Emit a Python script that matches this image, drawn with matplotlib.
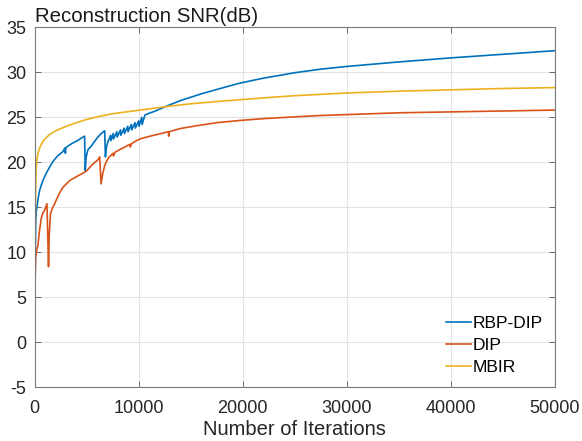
import matplotlib
matplotlib.use("Agg")
import matplotlib.pyplot as plt

# RBP-DIP (blue)
rbp_x = [0, 30, 60, 100, 150, 220, 350, 480, 650, 800, 1120, 1450, 1760, 2200, 2720, 2900,
         2950, 3000, 3200, 3600, 4100, 4500, 4800, 4860, 4950, 5120, 5440, 6000, 6400, 6730,
         6800, 6900, 7050, 7300,
         7330, 7550, 7580, 7900, 7930, 8250, 8280, 8600, 8630, 8950, 8980, 9300, 9330,
         9650, 9680, 10000, 10030, 10300, 10330,
         10600, 11000, 11500, 12000, 12690, 14000, 16000, 18000, 19740, 22000, 25000,
         27500, 30000, 35000, 40000, 45000, 50000]
rbp_y = [-2.2, 3.0, 10.0, 13.5, 14.5, 15.1, 16.1, 16.9, 17.5, 18.0, 18.8, 19.5, 20.1, 20.7, 21.2, 21.6,
         21.0, 21.6, 21.8, 22.1, 22.4, 22.7, 22.9, 19.1, 20.6, 21.4, 21.8, 22.7, 23.2, 23.5,
         20.6, 21.7, 22.3, 23.0,
         22.4, 23.2, 22.6, 23.4, 22.8, 23.6, 23.0, 23.8, 23.2, 24.0, 23.4, 24.2, 23.6,
         24.4, 23.8, 24.6, 24.0, 25.0, 24.2,
         25.25, 25.45, 25.65, 25.9, 26.25, 26.85, 27.6, 28.25, 28.8, 29.35, 29.95,
         30.35, 30.65, 31.15, 31.6, 32.0, 32.4]

# DIP (orange)
dip_x = [0, 20, 50, 100, 200, 317, 450, 635, 800, 960, 1180, 1330, 1400, 1520, 1700, 1920,
         2150, 2400, 2700, 3040, 3400, 3700, 4330, 4960, 5500, 6090, 6250, 6380, 6550, 6730,
         6900, 7100, 7530, 7580, 7700, 8000, 8500, 9160, 9200, 9300, 9700, 10125, 11080,
         12000, 12850, 12880, 12950, 14000, 15500, 17500, 19740, 22000, 25000, 27500,
         30000, 35000, 40000, 45000, 50000]
dip_y = [-1.2, 4.1, 7.5, 9.5, 10.3, 10.8, 12.3, 13.8, 14.4, 14.7, 15.4, 8.4, 12.0, 14.3, 14.9, 15.4,
         16.0, 16.6, 17.2, 17.6, 18.0, 18.2, 18.6, 19.0, 19.7, 20.3, 20.6, 17.6, 18.8, 19.6,
         20.1, 20.5, 21.0, 20.7, 21.1, 21.3, 21.6, 22.0, 21.7, 22.05, 22.35, 22.6, 22.9,
         23.15, 23.4, 22.9, 23.4, 23.75, 24.05, 24.4, 24.65, 24.85, 25.05, 25.2,
         25.3, 25.5, 25.6, 25.7, 25.8]

# MBIR (yellow)
mbir_x = [0, 30, 60, 100, 150, 200, 317, 450, 635, 900, 1440, 2200, 3040, 4000, 4960, 6200,
          7530, 8800, 10125, 12690, 15000, 17500, 19740, 22500, 25000, 27500, 30000, 35000,
          40000, 45000, 50000]
mbir_y = [3.5, 10.0, 14.0, 17.5, 19.3, 20.2, 21.0, 21.5, 22.0, 22.5, 23.1, 23.6, 24.0, 24.4, 24.75, 25.1,
          25.4, 25.6, 25.8, 26.2, 26.5, 26.75, 26.95, 27.2, 27.4, 27.55, 27.7, 27.9,
          28.05, 28.2, 28.3]

x_ticks = [0, 10000, 20000, 30000, 40000, 50000]
y_ticks = list(range(-5, 40, 5))

plt.rcParams["font.family"] = ["Liberation Sans", "DejaVu Sans"]
plt.rcParams["axes.unicode_minus"] = False

fig = plt.figure(figsize=(5.82, 4.41), dpi=100)
ax = fig.add_axes([0.0596, 0.1218, 0.8935, 0.8163])

ax.plot(rbp_x, rbp_y, color="#0072BD", lw=1.2, label="RBP-DIP")
ax.plot(dip_x, dip_y, color="#D95319", lw=1.2, label="DIP")
ax.plot(mbir_x, mbir_y, color="#EDB120", lw=1.2, label="MBIR")

ax.set_xlim(0, 50000)
ax.set_ylim(-5, 35)
ax.set_xticks(x_ticks)
ax.set_yticks(y_ticks)
ax.set_xticklabels([str(t) for t in x_ticks])
ax.grid(True, color="#e3e3e3", lw=0.8)
ax.set_axisbelow(True)
ax.tick_params(direction="in", length=4, width=0.6, color="#555555",
               top=True, right=True, labelsize=13, labelcolor="#262626")
ax.tick_params(axis="x", pad=9)
ax.tick_params(axis="y", pad=6)
for s in ax.spines.values():
    s.set_color("#7a7a7a")
    s.set_linewidth(0.8)

ax.set_xlabel("Number of Iterations", fontsize=14.5, color="#262626", labelpad=2)
ax.set_title("Reconstruction SNR(dB)", loc="left", fontsize=14.7, color="#1a1a1a", pad=4)

ax.legend(loc="lower right", frameon=False, fontsize=12.5, handlelength=1.4,
          handletextpad=0.1, labelspacing=0.4, borderaxespad=0.3)

fig.savefig("out.png", dpi=100)
